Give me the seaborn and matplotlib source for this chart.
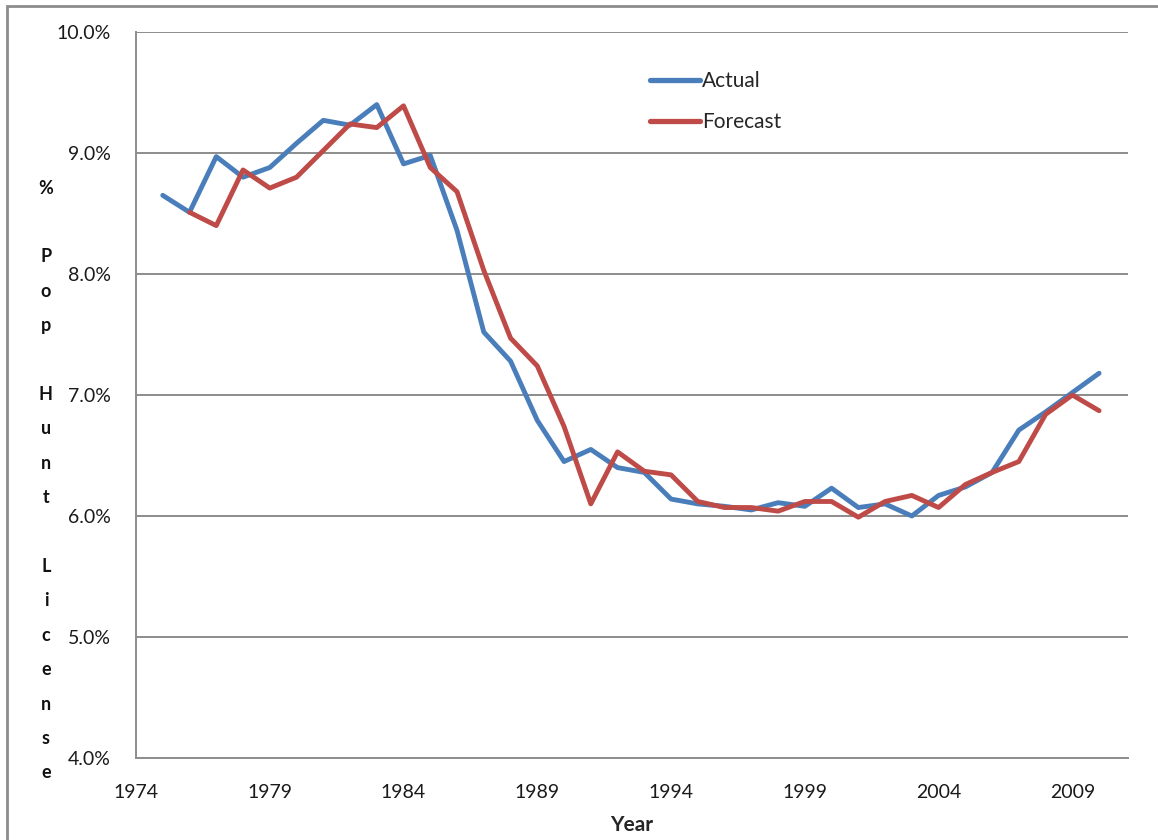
import numpy as np
import pandas as pd
import matplotlib
matplotlib.use("Agg")
import matplotlib.pyplot as plt
from matplotlib.patches import Rectangle
from matplotlib.ticker import FuncFormatter, MultipleLocator
import seaborn as sns

# Share of population holding a hunting license, actual vs. forecast
years = list(range(1975, 2011))
actual = [8.65, 8.51, 8.97, 8.80, 8.88, 9.08, 9.27, 9.23, 9.40, 8.91,
          8.98, 8.36, 7.52, 7.28, 6.79, 6.45, 6.55, 6.40, 6.36, 6.14,
          6.10, 6.08, 6.05, 6.11, 6.08, 6.23, 6.07, 6.10, 6.00, 6.17,
          6.24, 6.36, 6.71, 6.86, 7.02, 7.18]
forecast = [np.nan, 8.51, 8.40, 8.86, 8.71, 8.80, 9.02, 9.24, 9.21, 9.39,
            8.88, 8.68, 8.03, 7.47, 7.24, 6.74, 6.10, 6.53, 6.37, 6.34,
            6.12, 6.07, 6.07, 6.04, 6.12, 6.12, 5.99, 6.12, 6.17, 6.07,
            6.26, 6.36, 6.45, 6.84, 7.00, 6.87]
series_names = ["Actual", "Forecast"]
series_colors = ["#4A7EBB", "#BE4B48"]
x_ticks = [1974, 1979, 1984, 1989, 1994, 1999, 2004, 2009]
y_label_words = ["%", "Pop", "Hunt", "License"]
x_label = "Year"

df = pd.concat([
    pd.DataFrame({"Year": years, "Value": actual, "Series": series_names[0]}),
    pd.DataFrame({"Year": years, "Value": forecast, "Series": series_names[1]}),
]).dropna()

sns.set_style("white")
plt.rcParams["font.family"] = ["Lato", "DejaVu Sans"]

fig = plt.figure(figsize=(11.58, 8.40), dpi=100)
ax = fig.add_axes([136 / 1158, 1 - 758 / 840, (1128 - 136) / 1158, (758 - 32) / 840])

sns.lineplot(data=df, x="Year", y="Value", hue="Series",
             palette=dict(zip(series_names, series_colors)),
             linewidth=3.5, ax=ax, legend=True)

ax.set_xlim(1974, 2011.08)
ax.set_ylim(4.0, 10.0)
ax.set_xticks(x_ticks)
ax.yaxis.set_major_locator(MultipleLocator(1.0))
ax.yaxis.set_major_formatter(FuncFormatter(lambda v, p: f"{v:.1f}%"))
ax.grid(axis="y", color="#8C8C8C", linewidth=1.4)
ax.grid(axis="x", visible=False)
ax.set_axisbelow(True)

for side in ["top", "right"]:
    ax.spines[side].set_visible(False)
for side in ["left", "bottom"]:
    ax.spines[side].set_color("#8C8C8C")
    ax.spines[side].set_linewidth(1.4)

ax.tick_params(axis="both", direction="out", length=6, width=1.2,
               color="#8C8C8C", labelsize=14, labelcolor="#1A1A1A")
ax.tick_params(axis="y", pad=12)
ax.tick_params(axis="x", pad=13)
ax.set_xlabel(x_label, fontsize=15, fontweight="bold", labelpad=10)
ax.set_ylabel("")

leg = ax.legend(loc="upper left", bbox_to_anchor=(0.518, 0.946),
                frameon=False, fontsize=15, handlelength=2.4,
                handletextpad=0.12, labelspacing=1.0, borderpad=0,
                borderaxespad=0)
for line in leg.get_lines():
    line.set_linewidth(3.8)

# vertical, letter-by-letter axis title
chars = []
for i, w in enumerate(y_label_words):
    if i:
        chars.append("")
    chars.extend(list(w))
y0, step = 188, 34.4
for i, ch in enumerate(chars):
    if ch:
        fig.text(46 / 1158, 1 - (y0 + i * step) / 840, ch, ha="center",
                 va="center", fontsize=13, fontweight="bold", color="#111111")

# chart frame
fig.patches.append(Rectangle((7 / 1158, -0.1), 1.2, 1 - 6 / 840 + 0.1,
                             transform=fig.transFigure, fill=False,
                             edgecolor="#8C8C8C", linewidth=2.0))

fig.savefig("out.png", dpi=100, facecolor="white")
